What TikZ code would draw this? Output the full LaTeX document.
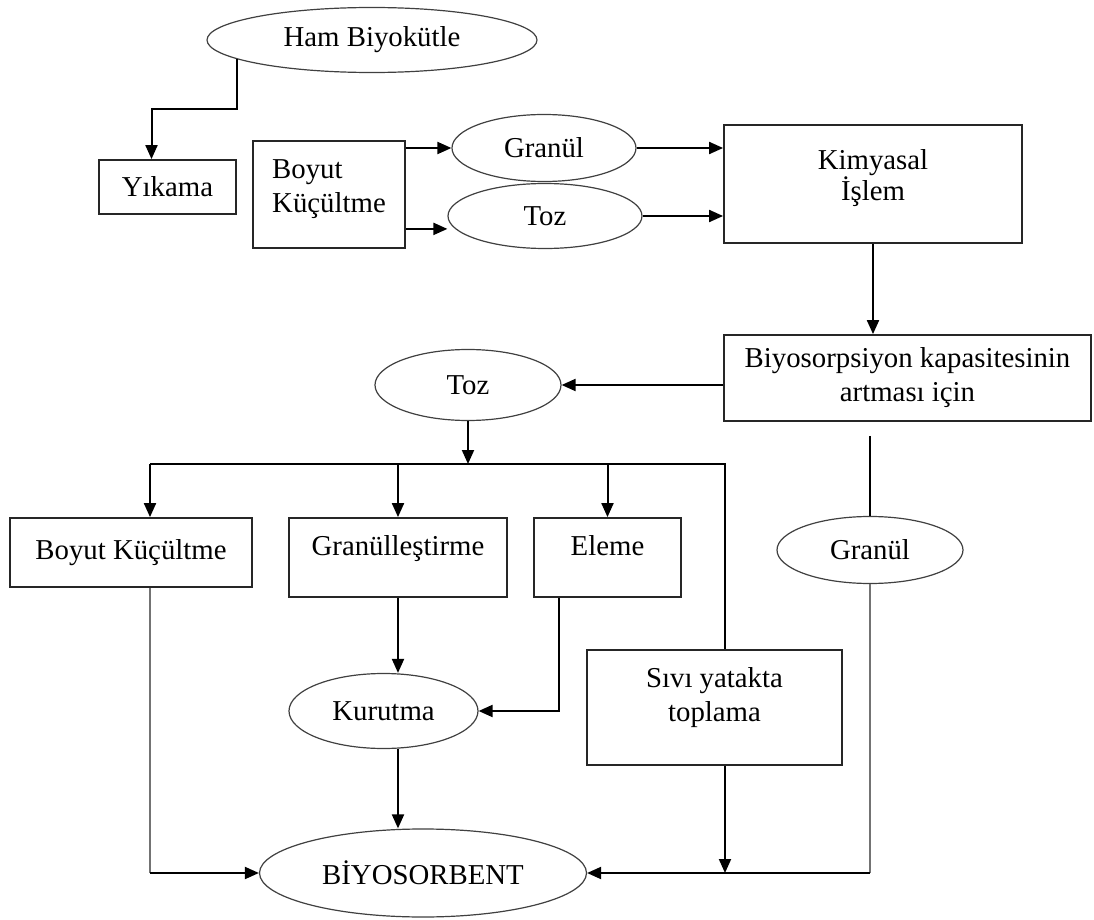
\documentclass[tikz,border=0pt]{standalone}
\usepackage{fontspec}
\setmainfont{Liberation Serif}
\usepackage{tikz}
\usetikzlibrary{arrows.meta,positioning,shapes.geometric}

\begin{document}
\begin{tikzpicture}[
    x=0.5pt, y=-0.5pt,
    box/.style={rectangle, draw=black!85, line width=0.9pt, inner sep=2pt, align=center, font=\fontsize{14.4}{17}\selectfont},
    oval/.style={ellipse, draw=black!75, line width=0.6pt, inner sep=0pt, font=\fontsize{14.4}{17}\selectfont},
    lift/.style={text depth=#1},
    arr/.style={line width=1pt, -{Triangle[length=7pt,width=6pt]}},
    link/.style={line width=1pt},
    faint/.style={line width=0.6pt, black!55}
]
\fill[white] (0,0) rectangle (1094,920);
\useasboundingbox (0,0) rectangle (1094,920);

\node[oval, minimum width=165pt, minimum height=32.5pt] (ham) at (372,40) {Ham Biyokütle};
\node[box, minimum width=68.5pt, minimum height=27pt] (yikama) at (167.5,187) {Yıkama};
\node[box, minimum width=76pt, minimum height=53.5pt, align=left, lift=8pt] (boyut) at (329,194.5) {Boyut\\Küçültme};
\node[oval, minimum width=92pt, minimum height=33.5pt] (granul) at (544,148) {Granül};
\node[oval, minimum width=97pt, minimum height=32.5pt] (toz) at (545,216) {Toz};
\node[box, minimum width=149pt, minimum height=59pt, font=\fontsize{14.4}{15.5}\selectfont, lift=9pt] (kimyasal) at (873,184) {Kimyasal\\İşlem};
\node[box, minimum width=183.5pt, minimum height=43pt] (kapasite) at (907.5,378) {Biyosorpsiyon kapasitesinin\\artması için};
\node[oval, minimum width=93pt, minimum height=35.5pt] (toz2) at (468,385) {Toz};
\node[box, minimum width=121pt, minimum height=34.5pt] (boyut2) at (131,552.5) {Boyut Küçültme};
\node[box, minimum width=109pt, minimum height=39.5pt, lift=12pt] (granulles) at (398,557.5) {Granülleştirme};
\node[box, minimum width=73.5pt, minimum height=39.5pt, lift=12pt] (eleme) at (607.5,557.5) {Eleme};
\node[oval, minimum width=93pt, minimum height=33.5pt] (granul2) at (870,550) {Granül};
\node[oval, minimum width=94.5pt, minimum height=37.5pt] (kurutma) at (383.5,711) {Kurutma};
\node[box, minimum width=127.5pt, minimum height=57.5pt, lift=13pt] (sivi) at (714.5,707.5) {Sıvı yatakta\\toplama};
\node[oval, minimum width=163.5pt, minimum height=44pt] (biyosorbent) at (423,873) {BİYOSORBENT};

\coordinate (busl) at (150,464);
\coordinate (busr) at (725,464);
\coordinate (gap) at ([yshift=-7pt]kapasite.south);
\coordinate (bk) at ([yshift=10pt]boyut.south east);

\draw[arr] (ham.188) -- ++(0,50) -| ([xshift=-8pt]yikama.north);
\draw[arr] (boyut.east |- granul.west) -- (granul.west);
\draw[arr] (bk) -- (bk -| toz.west);
\draw[arr] (granul.east) -- (kimyasal.west |- granul.east);
\draw[arr] (toz.east) -- (kimyasal.west |- toz.east);
\draw[arr] (kimyasal.south) -- (kimyasal.south |- kapasite.north);
\draw[arr] (kapasite.west |- toz2.east) -- (toz2.east);
\draw[arr] (toz2.south) -- (toz2.south |- busl);
\draw[link] (busl) -- (busr) -- (busr |- sivi.north);
\draw[arr] (busl) -- (busl |- boyut2.north);
\draw[arr] (granulles.north |- busl) -- (granulles.north);
\draw[arr] (eleme.north |- busl) -- (eleme.north);
\draw[link] (gap -| granul2.north) -- (granul2.north);
\draw[arr] (granulles.south) -- (granulles.south |- kurutma.north);
\draw[arr] ([xshift=13pt]eleme.south west) |- (kurutma.east);
\draw[arr] (granulles.south |- kurutma.south) -- (granulles.south |- biyosorbent.north);
\draw[faint] (boyut2.south -| busl) -- (busl |- biyosorbent.west);
\draw[arr] (busl |- biyosorbent.west) -- (biyosorbent.west);
\draw[arr] (sivi.south -| busr) -- (busr |- biyosorbent.east);
\draw[faint] (granul2.south) -- (granul2.south |- biyosorbent.east);
\draw[arr] (granul2.south |- biyosorbent.east) -- (biyosorbent.east);
\end{tikzpicture}
\end{document}
